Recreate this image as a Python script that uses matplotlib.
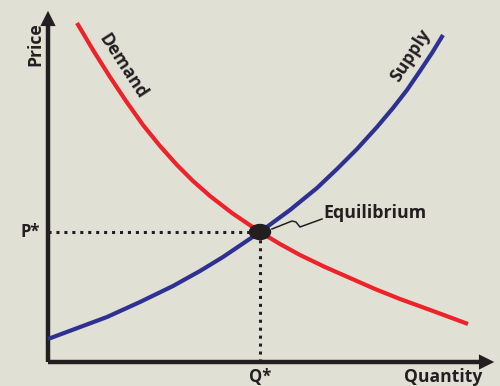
import matplotlib.pyplot as plt
from matplotlib.patches import Ellipse

# curve points (quantity, price), origin at the axes corner
demand_q = [29, 45, 62, 78, 95, 112, 129, 145, 162, 184, 212, 232, 252, 277, 302, 327, 352, 385, 420]
demand_p = [339, 312, 285, 261, 237, 216, 197, 181, 166, 149, 130, 118, 107, 95, 84, 73, 63, 51, 38]
supply_q = [0, 59, 92, 125, 152, 175, 212, 242, 269, 289, 309, 329, 345, 359, 372, 384, 395]
supply_p = [23, 45, 60, 76, 91, 105, 130, 152, 174, 193, 213, 235, 254, 272, 291, 309, 327]

eq_q, eq_p = 212, 130
x_max, y_max = 452, 354

# wavy connector from the dot to the label
link_q = [224, 244, 248, 252, 274]
link_p = [133, 141, 140, 135, 143]

bg = "#e1e0d5"
red = "#ee2229"
blue = "#2e3192"
ink = "#231f20"
font = "Open Sans"

fig = plt.figure(figsize=(5, 3.86), dpi=100, facecolor=bg)
ax = fig.add_axes([0, 0, 1, 1])
ax.set_facecolor(bg)
ax.set_xlim(-48, 452)
ax.set_ylim(-24, 362)
ax.axis("off")

# axes with arrow heads
ax.plot([0, x_max - 12], [0, 0], color=ink, lw=3.2, solid_capstyle="butt")
ax.plot([0, 0], [0, y_max - 14], color=ink, lw=3.2, solid_capstyle="butt")
ax.annotate("", xy=(x_max - 3, 0), xytext=(x_max - 20, 0),
            arrowprops=dict(arrowstyle="-|>,head_length=1.1,head_width=0.55",
                            color=ink, lw=0))
ax.annotate("", xy=(0, y_max), xytext=(0, y_max - 20),
            arrowprops=dict(arrowstyle="-|>,head_length=1.1,head_width=0.55",
                            color=ink, lw=0))

# dotted guide lines
ax.plot([0, eq_q], [eq_p, eq_p], color=ink, lw=2.2, ls=(0, (1, 1.6)))
ax.plot([eq_q, eq_q], [0, eq_p], color=ink, lw=2.2, ls=(0, (1, 1.6)))

ax.plot(demand_q, demand_p, color=red, lw=3, solid_capstyle="butt",
        solid_joinstyle="round", zorder=3)
ax.plot(supply_q, supply_p, color=blue, lw=3, solid_capstyle="butt",
        solid_joinstyle="round", zorder=3)

ax.add_patch(Ellipse((eq_q, eq_p), 21, 15, color=ink, zorder=5))
ax.plot(link_q, link_p, color=ink, lw=1.1, zorder=4)

txt = dict(family=font, color=ink, fontweight="bold")
ax.text(275, 149, "Equilibrium", fontsize=12.8, ha="left", va="center", **txt)
ax.text(-8, eq_p, "P*", fontsize=12, ha="right", va="center", **txt)
ax.text(eq_q, -15, "Q*", fontsize=12, ha="center", va="center", **txt)
ax.text(434, -15, "Quantity", fontsize=12.6, ha="right", va="center", **txt)
ax.text(-13, 318, "Price", fontsize=12.6, ha="center", va="center", rotation=90, **txt)
ax.text(75, 296, "Demand", fontsize=12.6, ha="center", va="center", rotation=-57, **txt)
ax.text(363, 307, "Supply", fontsize=12.6, ha="center", va="center", rotation=57, **txt)

fig.savefig("out.png", dpi=100, facecolor=bg)
